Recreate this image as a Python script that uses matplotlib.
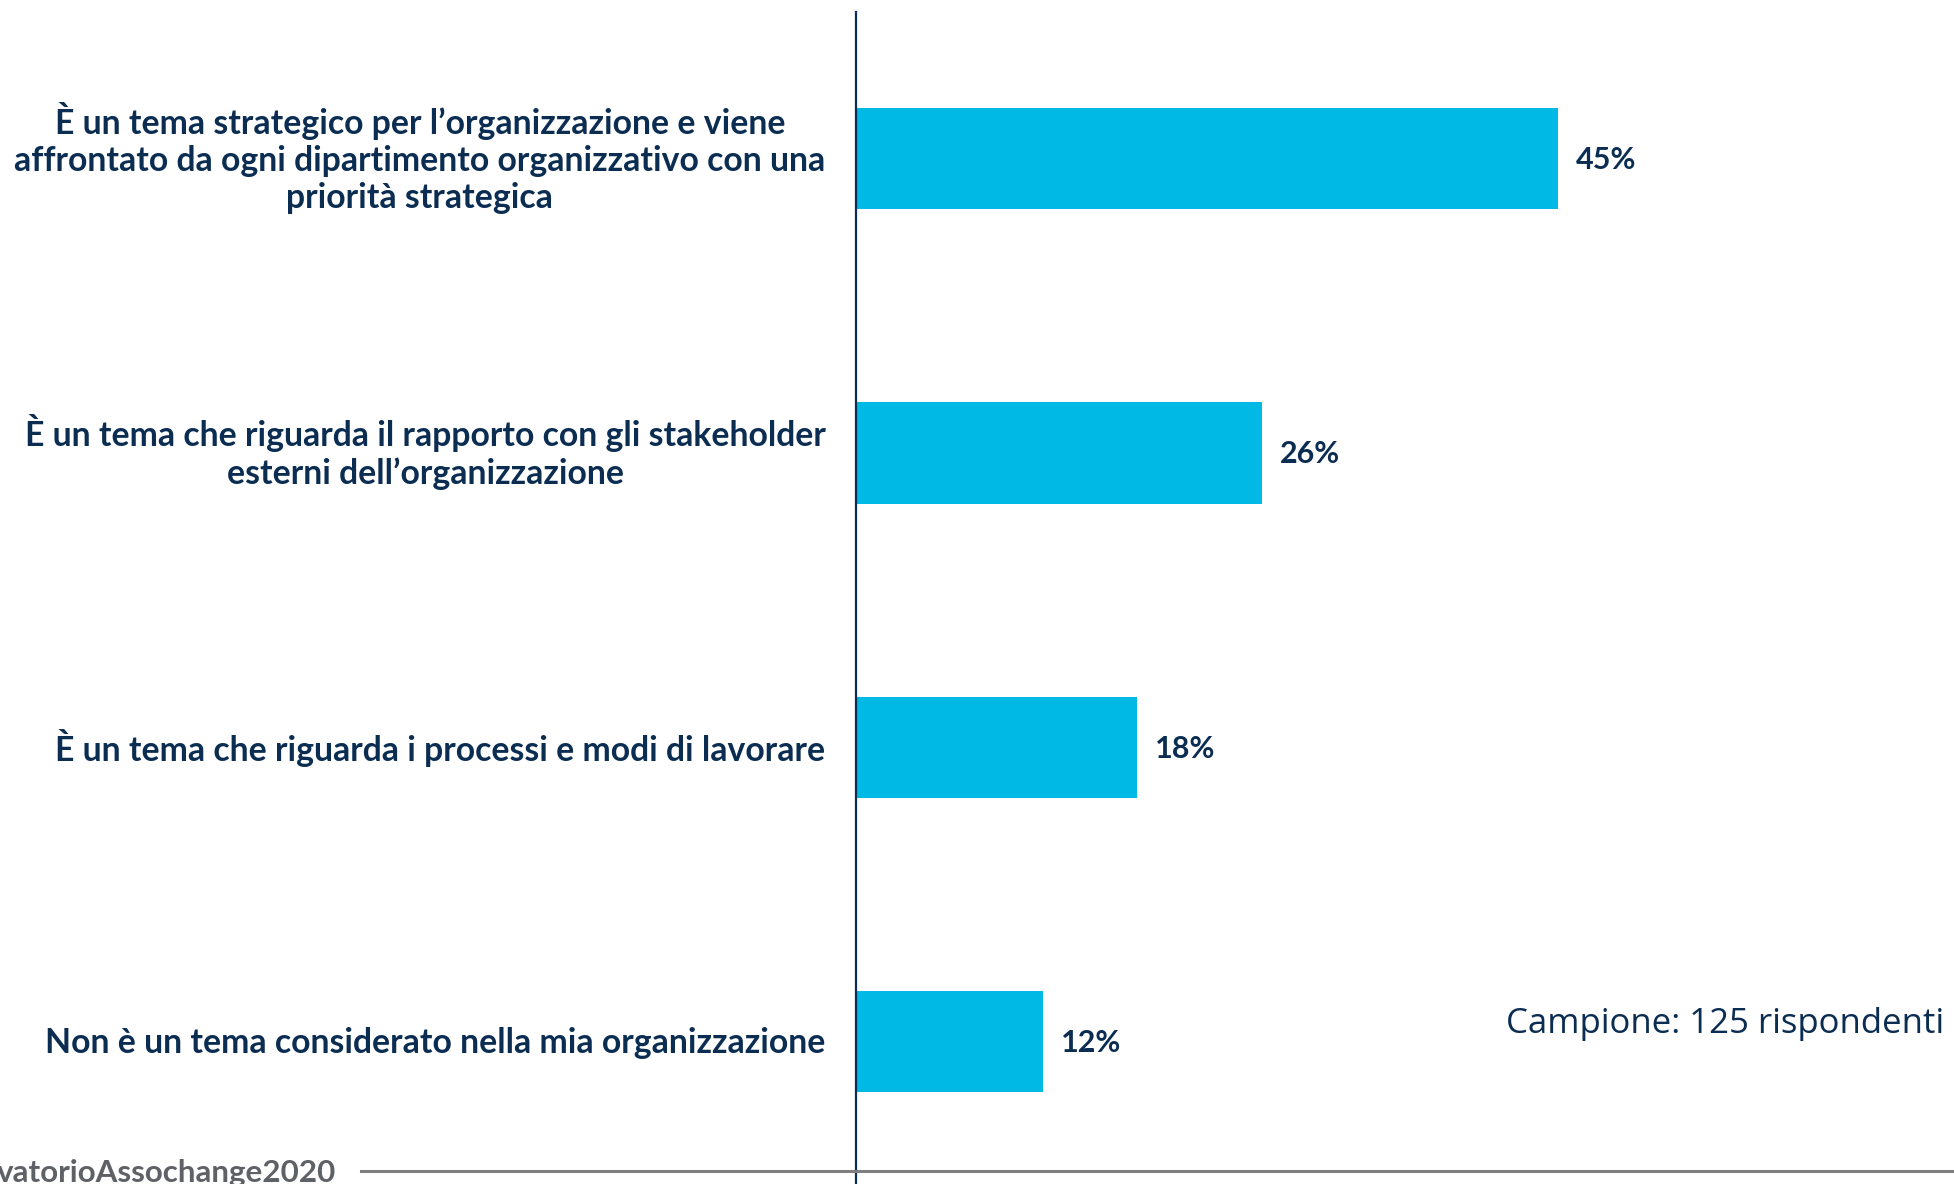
import matplotlib.pyplot as plt
from matplotlib.lines import Line2D

categories = [
    "È un tema strategico per l’organizzazione e viene\naffrontato da ogni dipartimento organizzativo con una\npriorità strategica",
    "È un tema che riguarda il rapporto con gli stakeholder\nesterni dell’organizzazione",
    "È un tema che riguarda i processi e modi di lavorare",
    "Non è un tema considerato nella mia organizzazione",
]
values = [45, 26, 18, 12]
sample_note = "Campione: 125 rispondenti"
footer_tag = "vatorioAssochange2020"

navy = "#0b2d52"
cyan = "#00b9e4"

W, H = 1954, 1184
fig = plt.figure(figsize=(W / 100, H / 100), dpi=100)

# axes starts at the vertical line, runs to the right edge
ax_left = 856 / W
ax_top = 12 / H
ax = fig.add_axes([ax_left, 0, 1 - ax_left, 1 - ax_top])

pos = list(range(len(values)))
ax.barh(pos, values, height=0.344, color=cyan)
ax.set_xlim(0, (W - 856) / 15.6)
ax.set_ylim(3.483, -0.498)

for y, v in zip(pos, values):
    ax.annotate(f"{v}%", (v, y), xytext=(13, -1), textcoords="offset points",
                ha="left", va="center", fontsize=22, fontweight="bold",
                color=navy, family="Lato")

# category labels drawn as text so multi-line ones can be nudged
for y, lab in zip(pos, categories):
    dy = 0.5 if "\n" in lab else -0.5
    ax.annotate(lab, (0, y), xytext=(-22, dy), textcoords="offset points",
                ha="right", va="center", multialignment="center",
                linespacing=1.2, fontsize=24.3, fontweight="bold",
                color=navy, family="Lato", annotation_clip=False)

ax.set_yticks([])
ax.set_xticks([])
for s in ["top", "right", "bottom"]:
    ax.spines[s].set_visible(False)
ax.spines["left"].set_color(navy)
ax.spines["left"].set_linewidth(1.6)

fig.text(1944 / W, 1 - 1024 / H, sample_note, ha="right", va="center",
         fontsize=25, color=navy, family="Open Sans")

# footer line and cropped hashtag
fig.add_artist(Line2D([361 / W, 1], [1 - 1171 / H] * 2, color="#7f7f7f", lw=2.2))
fig.text(-3 / W, 1 - 1182 / H, footer_tag, ha="left", va="baseline",
         fontsize=22.6, color="#5e6166", family="Lato", fontweight="bold")

plt.savefig("out.png", dpi=100)
